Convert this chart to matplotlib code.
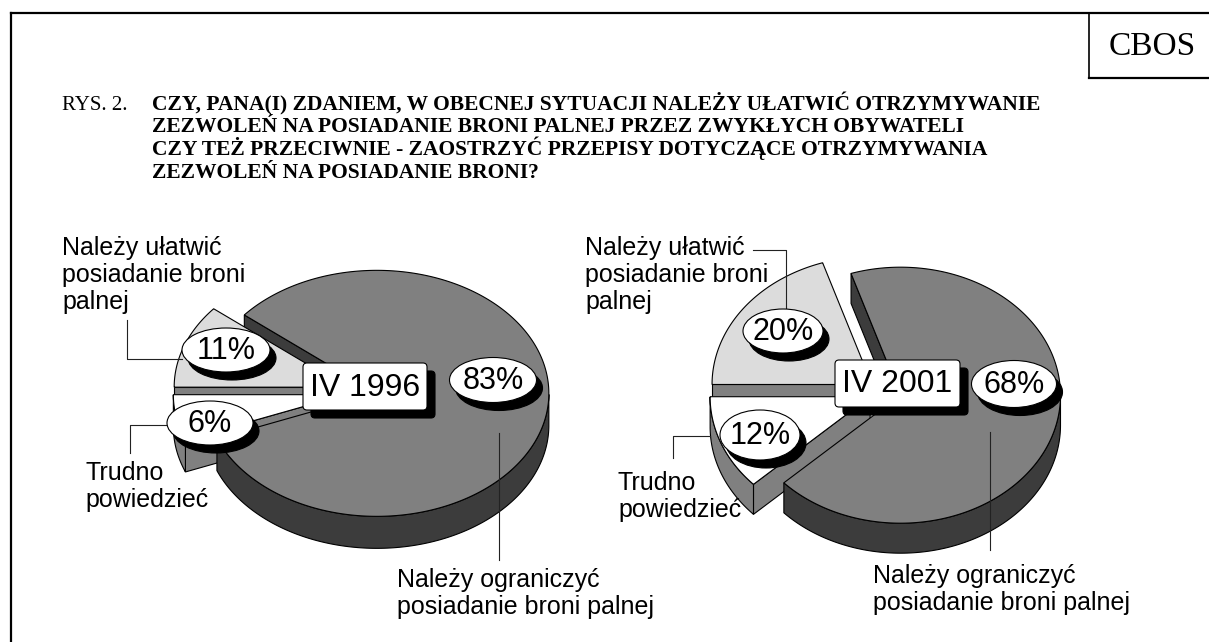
import matplotlib
matplotlib.use('Agg')
import matplotlib.pyplot as plt
from matplotlib.patches import Polygon, Ellipse, FancyBboxPatch
import numpy as np

# answer categories, counter-clockwise from the top-left slice
answers = ['Należy ułatwić\nposiadanie broni\npalnej',
           'Trudno\npowiedzieć',
           'Należy ograniczyć\nposiadanie broni palnej']
waves = ['IV 1996', 'IV 2001']
vals_1996 = [11, 6, 83]
vals_2001 = [20, 12, 68]

title_lines = ['CZY, PANA(I) ZDANIEM, W OBECNEJ SYTUACJI NALEŻY UŁATWIĆ OTRZYMYWANIE',
               'ZEZWOLEŃ NA POSIADANIE BRONI PALNEJ PRZEZ ZWYKŁYCH OBYWATELI',
               'CZY TEŻ PRZECIWNIE - ZAOSTRZYĆ PRZEPISY DOTYCZĄCE OTRZYMYWANIA',
               'ZEZWOLEŃ NA POSIADANIE BRONI?']

top_colors = ['#dcdcdc', '#ffffff', '#808080']
side_colors = ['#808080', '#808080', '#3c3c3c']

SANS = 'Liberation Sans'
SERIF = 'Liberation Serif'


def pie3d(ax, vals, cx, cy, rx, ry, depth, explode):
    # slices go ccw, first slice ends at 180 deg
    start = 180 - vals[0] * 3.6
    bounds = []
    a = start
    for v in vals:
        bounds.append((a, a + v * 3.6))
        a += v * 3.6
    sides, tops = [], []
    for i, (a0, a1) in enumerate(bounds):
        mid = np.radians((a0 + a1) / 2)
        ox = explode[i] * np.cos(mid)
        oy = -explode[i] * np.sin(mid) * ry / rx
        c = np.array([cx + ox, cy + oy])
        t = np.radians(np.linspace(a0, a1, 300))
        arc = np.column_stack([c[0] + rx * np.cos(t), c[1] - ry * np.sin(t)])
        tops.append((np.vstack([c, arc]), top_colors[i]))
        d = np.array([0, depth])
        # radial walls that face the viewer
        for ang, vis in [(a0, np.cos(np.radians(a0)) > 1e-9), (a1, np.cos(np.radians(a1)) < -1e-9)]:
            if vis:
                r = np.radians(ang)
                rim = c + [rx * np.cos(r), -ry * np.sin(r)]
                sides.append((np.array([c, rim, rim + d, c + d]), side_colors[i]))
        # outer rim on the front half
        front = np.sin(t) < 0
        idx = np.where(front)[0]
        if len(idx):
            runs = np.split(idx, np.where(np.diff(idx) > 1)[0] + 1)
            for run in runs:
                pts = arc[run]
                band = np.vstack([pts, (pts + d)[::-1]])
                sides.append((band, side_colors[i]))
    for pts, col in sides:
        ax.add_patch(Polygon(pts, closed=True, fc=col, ec='black', lw=0.8, zorder=2))
    for pts, col in tops:
        ax.add_patch(Polygon(pts, closed=True, fc=col, ec='black', lw=0.8, zorder=3))


def pct_label(ax, x, y, w, h, txt):
    ax.add_patch(Ellipse((x + 6, y + 8), w, h, fc='black', ec='black', lw=0.8, zorder=5))
    ax.add_patch(Ellipse((x, y), w, h, fc='white', ec='black', lw=0.8, zorder=6))
    ax.text(x, y + 1, txt, ha='center', va='center', fontsize=22, family=SANS, zorder=7)


def date_box(ax, x0, y0, w, h, txt):
    ax.add_patch(FancyBboxPatch((x0 + 8, y0 + 8), w, h, boxstyle='round,pad=0,rounding_size=4',
                                fc='black', ec='black', lw=0.8, zorder=5))
    ax.add_patch(FancyBboxPatch((x0, y0), w, h, boxstyle='round,pad=0,rounding_size=4',
                                fc='white', ec='black', lw=0.8, zorder=6))
    ax.text(x0 + w / 2, y0 + h / 2 + 1, txt, ha='center', va='center', fontsize=23,
            family=SANS, zorder=7)


def leader(ax, xs, ys):
    ax.plot(xs, ys, color='#222222', lw=0.8, zorder=4)


fig = plt.figure(figsize=(12.09, 6.42), dpi=100)
ax = fig.add_axes([0, 0, 1, 1])
ax.set_xlim(0, 1209)
ax.set_ylim(642, 0)
ax.axis('off')

# frame and CBOS box
ax.plot([11, 1209], [13, 13], color='black', lw=1.6)
ax.plot([11, 11], [13, 642], color='black', lw=1.6)
ax.plot([1089, 1089], [13, 78], color='black', lw=1.2)
ax.plot([1089, 1209], [78, 78], color='black', lw=1.6)
ax.text(1152, 47, 'CBOS', ha='center', va='center', fontsize=24, family=SERIF)

# title
ax.text(62, 110, 'RYS. 2.', ha='left', va='baseline', fontsize=15, family=SERIF)
for k, line in enumerate(title_lines):
    ax.text(152, 110 + k * 22.5, line, ha='left', va='baseline', fontsize=15.5,
            family=SERIF, fontweight='bold')

# pies
pie3d(ax, vals_1996, 365, 392, 172, 123, 32, [20, 20, 12])
pie3d(ax, vals_2001, 885, 392, 160, 128, 30, [16, 16, 16])

# leader lines
leader(ax, [127, 127, 182], [320, 359, 359])
leader(ax, [168, 130, 130], [425, 425, 453])
leader(ax, [499, 499], [433, 560])
leader(ax, [753, 786, 786], [250, 250, 308])
leader(ax, [710, 673, 673], [436, 436, 458])
leader(ax, [990, 990], [432, 550])

# labels 1996
ax.text(62, 236, answers[0], ha='left', va='top', fontsize=18, family=SANS, linespacing=1.15)
ax.text(85, 461, answers[1], ha='left', va='top', fontsize=18, family=SANS, linespacing=1.15)
ax.text(397, 568, answers[2], ha='left', va='top', fontsize=18, family=SANS, linespacing=1.15)
pct_label(ax, 226, 350, 88, 44, f'{vals_1996[0]}%')
pct_label(ax, 210, 423, 86, 44, f'{vals_1996[1]}%')
pct_label(ax, 493, 380, 87, 45, f'{vals_1996[2]}%')
date_box(ax, 303, 363, 124, 47, waves[0])

# labels 2001
ax.text(585, 236, answers[0], ha='left', va='top', fontsize=18, family=SANS, linespacing=1.15)
ax.text(618, 471, answers[1], ha='left', va='top', fontsize=18, family=SANS, linespacing=1.15)
ax.text(873, 564, answers[2], ha='left', va='top', fontsize=18, family=SANS, linespacing=1.15)
pct_label(ax, 783, 331, 80, 44, f'{vals_2001[0]}%')
pct_label(ax, 760, 435, 80, 50, f'{vals_2001[1]}%')
pct_label(ax, 1014, 384, 85, 47, f'{vals_2001[2]}%')
date_box(ax, 835, 360, 125, 47, waves[1])

fig.savefig('out.png', dpi=100)
